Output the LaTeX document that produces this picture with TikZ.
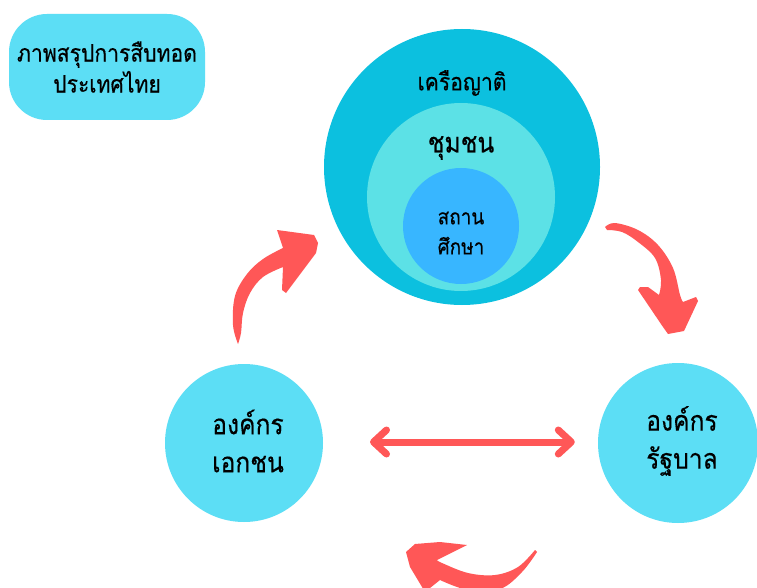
\documentclass[tikz,border=0pt]{standalone}
\usepackage{fontspec}
\newfontfamily\thaifont[Script=Thai,FakeStretch=0.88,FakeBold=0.35]{Loma}
\usetikzlibrary{arrows.meta}
\definecolor{bigc}{HTML}{0CC0DF}
\definecolor{midc}{HTML}{5CE1E6}
\definecolor{innc}{HTML}{38B6FF}
\definecolor{sidec}{HTML}{5CDEF5}
\definecolor{redc}{HTML}{FF5757}
\tikzset{
  disc/.style={circle, inner sep=0pt, draw=none},
  lbl/.style={font=\thaifont, text=black, align=center, inner sep=0pt},
  redarrow/.style={fill=redc, draw=none},
  barbtip/.tip={Straight Barb[length=13pt,width=24pt,line cap=round,line join=round]},
}
\begin{document}
\begin{tikzpicture}[x=1pt,y=-1pt]
\useasboundingbox[fill=white] (0,0) rectangle (757,588);
% title
\node[fill=sidec, rounded corners=38pt, minimum width=196pt, minimum height=106pt, inner sep=0pt] (titlebox) at (107,67) {};
\node[lbl, font=\thaifont\fontsize{24}{31}\selectfont] (title) at (107,67) {ภาพสรุปการสืบทอด\\ประเทศไทย};
% nested circles
\node[disc, fill=bigc, minimum size=276pt] (big) at (462,167) {};
\node[disc, fill=midc, minimum size=188pt] (mid) at (461,197) {};
\node[disc, fill=innc, minimum size=116pt] (inn) at (461,226) {};
\node[lbl, font=\thaifont\fontsize{24}{25}\selectfont] (kin) at (462,83) {เครือญาติ};
\node[lbl, font=\thaifont\fontsize{28}{30}\selectfont] (comm) at (461,148) {ชุมชน};
\node[lbl, font=\thaifont\fontsize{21.5}{30}\selectfont] (school) at (461,233) {สถาน\\ศึกษา};
% side circles
\node[disc, fill=sidec, minimum size=158pt] (priv) at (244,443) {};
\node[disc, fill=sidec, minimum size=160pt] (gov) at (678,443) {};
\node[lbl, font=\thaifont\fontsize{28}{38}\selectfont] (privt) at (248,441) {องค์กร\\เอกชน};
\node[lbl, font=\thaifont\fontsize{28}{38}\selectfont] (govt) at (682,441) {องค์กร\\รัฐบาล};
% double arrow between the two side circles
\draw[redc, line width=7pt, line cap=round, barbtip-barbtip,
  shorten <=47pt, shorten >=23pt] (priv.center) ++(79,-1) coordinate (pa) (pa) -- (gov.west |- pa);
% curved arrow up-left
\fill[redarrow] plot[smooth, tension=0.6] coordinates {(238,344) (233,325) (235,296) (247,274) (263,259) (283,248)}
  -- (277,230) -- (314,235) -- (318,243) -- (316,253) -- (286,293) -- (282,290) -- (283,267)
  -- plot[smooth, tension=0.6] coordinates {(283,267) (263,277) (250,293) (243,313) (241,333) (238,344)} -- cycle;
% curved arrow right-down
\fill[redarrow] plot[smooth, tension=0.6] coordinates {(605,227) (615,223) (638,230) (658,245) (673,268) (680,295) (683,302)}
  -- (696,297) -- (698,301) -- (684,331) -- (668,334) -- (663,327) -- (638,290) -- (640,287) -- (648,287) -- (659,295)
  -- plot[smooth, tension=0.6] coordinates {(659,295) (661,280) (655,258) (638,242) (622,232) (607,230)} -- cycle;
% curved arrow bottom
\fill[redarrow] plot[smooth, tension=0.6] coordinates {(535,550) (518,567) (495,575) (468,573) (442,563) (437,560)}
  -- (467,545) -- (440,542) -- (415,544) -- (406,552) -- (410,567) -- (425,592) -- (440,580)
  -- plot[smooth, tension=0.6] coordinates {(440,580) (468,590) (500,589) (522,572) (537,552)} -- cycle;
\end{tikzpicture}
\end{document}
